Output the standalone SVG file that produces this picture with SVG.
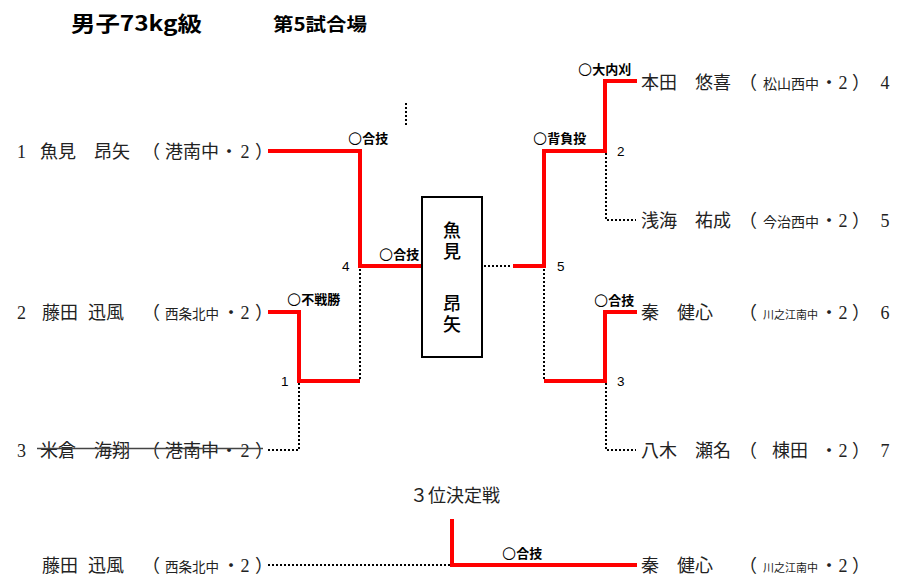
<svg xmlns="http://www.w3.org/2000/svg" width="907" height="584" viewBox="0 0 907 584">
<style>
.nm{font-family:"Liberation Serif","Noto Sans CJK JP",serif;font-size:18px;fill:#222}
.ss{font-family:"Noto Sans CJK JP",sans-serif;font-size:11px;fill:#222}
.lb{font-family:"Noto Sans CJK JP","Liberation Sans",sans-serif;font-size:13px;font-weight:bold;fill:#000}
.o{font-family:"DejaVu Sans",sans-serif;font-weight:normal;font-size:1.25em}
.num{font-family:"Liberation Sans",sans-serif;font-size:13.5px;fill:#000}
.ttl{font-family:"Noto Sans CJK JP","Liberation Sans",sans-serif;font-weight:bold;fill:#000}
.box{font-family:"Noto Sans CJK JP",sans-serif;font-size:18px;font-weight:500;fill:#000;writing-mode:vertical-rl;letter-spacing:3.5px}
.red{fill:none;stroke:#ff0000;stroke-width:4;stroke-linejoin:miter}
.dot{fill:none;stroke:#000;stroke-width:2;stroke-dasharray:2 2}
.m{text-anchor:middle}
</style>
<rect width="907" height="584" fill="#fff"/>
<g id="title">
<text class="ttl" x="71" y="31" font-size="21" textLength="131" lengthAdjust="spacingAndGlyphs">男子73kg級</text>
<text class="ttl" x="273" y="31" font-size="18" textLength="94" lengthAdjust="spacingAndGlyphs">第5試合場</text>
</g>
<g id="connectors">
<polyline class="red" points="268,151 360,151 360,266 422,266"/>
<polyline class="red" points="268,312 299,312 299,381 360,381"/>
<polyline class="red" points="513,266 544,266 544,151 605,151 605,81 637,81"/>
<polyline class="red" points="544,381 605,381 605,312 637,312"/>
<polyline class="red" points="452,519 452,565 637,565"/>
<line class="dot" x1="406" y1="103" x2="406" y2="125"/>
<line class="dot" x1="360" y1="269" x2="360" y2="379"/>
<polyline class="dot" points="268,450 299,450 299,383"/>
<line class="dot" x1="484" y1="266" x2="512" y2="266"/>
<line class="dot" x1="544" y1="269" x2="544" y2="379"/>
<polyline class="dot" points="606,153 606,220 636,220"/>
<polyline class="dot" points="606,383 606,450 636,450"/>
<line class="dot" x1="268" y1="565" x2="450" y2="565"/>
</g>
<g id="labels">
<text class="lb" x="348" y="143"><tspan class="o">○</tspan>合技</text>
<text class="lb" x="379" y="259"><tspan class="o">○</tspan>合技</text>
<text class="lb" x="287" y="304" font-size="13.5"><tspan class="o">○</tspan>不戦勝</text>
<text class="lb" x="578" y="73.5" font-size="13.5"><tspan class="o">○</tspan>大内刈</text>
<text class="lb" x="533" y="142.5" font-size="13.5"><tspan class="o">○</tspan>背負投</text>
<text class="lb" x="594" y="305"><tspan class="o">○</tspan>合技</text>
<text class="lb" x="502" y="558" font-size="15"><tspan class="o">○</tspan>合技</text>
<text class="num" x="342" y="270.5">4</text>
<text class="num" x="281" y="385.5">1</text>
<text class="num" x="557" y="270.5">5</text>
<text class="num" x="617" y="155.5">2</text>
<text class="num" x="617" y="385.5">3</text>
</g>
<g id="winner">
<rect x="422" y="197" width="60" height="160" fill="#fff" stroke="#000" stroke-width="2"/>
<text class="box" x="452" y="221">魚見</text>
<text class="box" x="452" y="294">昂矢</text>
</g>
<g id="p1">
<text class="nm" x="17" y="157.5">1</text>
<text class="nm" x="40" y="157.5">魚見　昂矢</text>
<text class="nm" y="157.5"><tspan x="142">（</tspan><tspan x="165">港南中</tspan><tspan x="229" class="m">・</tspan><tspan x="245" class="m">2</tspan><tspan x="255">）</tspan></text>
</g>
<g id="p2">
<text class="nm" x="17" y="318.5">2</text>
<text class="nm" x="42" y="318.5">藤田 <tspan x="88">迅風</tspan></text>
<text class="nm" y="318.5"><tspan x="142">（</tspan><tspan x="165" font-size="13.5">西条北中</tspan><tspan x="231" class="m">・</tspan><tspan x="245" class="m">2</tspan><tspan x="255">）</tspan></text>
</g>
<g id="p3">
<text class="nm" x="17" y="456.5">3</text>
<text class="nm" x="40" y="456.5">米倉　海翔</text>
<text class="nm" y="456.5"><tspan x="142">（</tspan><tspan x="165">港南中</tspan><tspan x="229" class="m">・</tspan><tspan x="245" class="m">2</tspan><tspan x="255">）</tspan></text>
<line x1="37" y1="448.5" x2="263" y2="448.5" stroke="#444" stroke-width="1.5"/>
</g>
<g id="p4">
<text class="nm" x="641" y="88.5">本田　悠喜</text>
<text class="nm" y="88.5"><tspan x="739">（</tspan><tspan x="763" font-size="14">松山西中</tspan><tspan x="829" class="m">・</tspan><tspan x="843" class="m">2</tspan><tspan x="852">）</tspan></text>
<text class="nm m" x="885" y="88.5">4</text>
</g>
<g id="p5">
<text class="nm" x="641" y="226.5">浅海　祐成</text>
<text class="nm" y="226.5"><tspan x="739">（</tspan><tspan x="763" font-size="14">今治西中</tspan><tspan x="829" class="m">・</tspan><tspan x="843" class="m">2</tspan><tspan x="852">）</tspan></text>
<text class="nm m" x="885" y="226.5">5</text>
</g>
<g id="p6">
<text class="nm" x="641" y="318.5">秦　健心</text>
<text class="nm" y="318.5"><tspan x="739">（</tspan><tspan x="763" class="ss">川之江南中</tspan><tspan x="829" class="m">・</tspan><tspan x="843" class="m">2</tspan><tspan x="852">）</tspan></text>
<text class="nm m" x="885" y="318.5">6</text>
</g>
<g id="p7">
<text class="nm" x="641" y="456.5">八木　瀬名</text>
<text class="nm" y="456.5"><tspan x="739">（</tspan><tspan x="772">棟田</tspan><tspan x="829" class="m">・</tspan><tspan x="843" class="m">2</tspan><tspan x="852">）</tspan></text>
<text class="nm m" x="885" y="456.5">7</text>
</g>
<g id="third-title">
<text class="nm" x="410" y="501.5" font-size="17.6">３位決定戦</text>
</g>
<g id="b1">
<text class="nm" x="42" y="571.5">藤田 <tspan x="88">迅風</tspan></text>
<text class="nm" y="571.5"><tspan x="142">（</tspan><tspan x="165" font-size="13.5">西条北中</tspan><tspan x="231" class="m">・</tspan><tspan x="245" class="m">2</tspan><tspan x="255">）</tspan></text>
</g>
<g id="b2">
<text class="nm" x="641" y="571.5">秦　健心</text>
<text class="nm" y="571.5"><tspan x="739">（</tspan><tspan x="763" class="ss">川之江南中</tspan><tspan x="829" class="m">・</tspan><tspan x="843" class="m">2</tspan><tspan x="852">）</tspan></text>
</g>
</svg>
